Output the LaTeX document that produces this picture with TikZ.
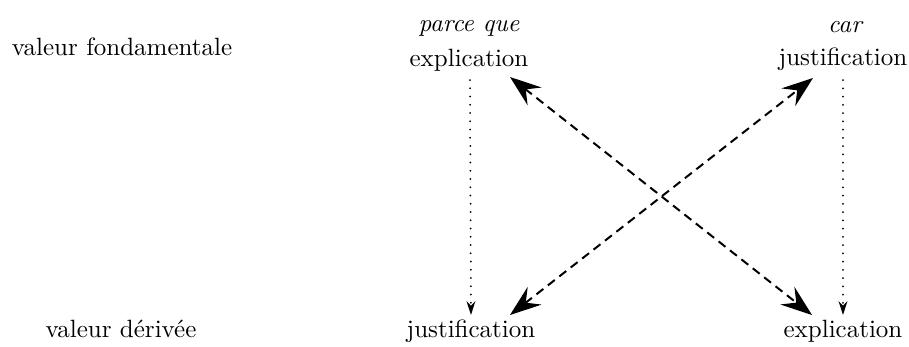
\documentclass[tikz,border=0pt]{standalone}
\usetikzlibrary{arrows.meta,calc}
\begin{document}
\begin{tikzpicture}[x=0.4pt,y=-0.4pt,
  lbl/.style={inner sep=0pt, anchor=base},
  dbl/.style={line width=0.8pt, dash pattern=on 3.5pt off 2.3pt, {Stealth[length=12.5pt,width=9pt,inset=4.5pt]}-{Stealth[length=12.5pt,width=9pt,inset=4.5pt]}},
  dotarrow/.style={line width=0.8pt, line cap=round, dash pattern=on 0pt off 3.3pt, -{Stealth[length=5.5pt,width=3.5pt,inset=1.8pt]}}
]
\useasboundingbox (0,0) rectangle (909,347);
\node[lbl] (vf) at (122,55) {valeur fondamentale};
\node[lbl] (vd) at (121,337) {valeur dérivée};
\node[lbl] (pq) at (469,31) {\itshape parce que};
\node[lbl] (eT) at (469,66) {explication};
\node[lbl] (car) at (845,32) {\itshape car};
\node[lbl] (jT) at (843,65) {justification};
\node[lbl] (jB) at (471,337) {justification};
\node[lbl] (eB) at (843,337) {explication};
\draw[dbl] ($(eT.base)+(41,11)$) -- ($(eB.base)+(-31,-22)$);
\draw[dbl] ($(jB.base)+(39,-22)$) -- ($(jT.base)+(-30,13)$);
\draw[dotarrow] ($(eT.base)+(1,14)$) -- ($(jB.base)+(0,-22)$);
\draw[dotarrow] ($(jT.base)+(0,15)$) -- ($(eB.base)+(0,-22)$);
\end{tikzpicture}
\end{document}
